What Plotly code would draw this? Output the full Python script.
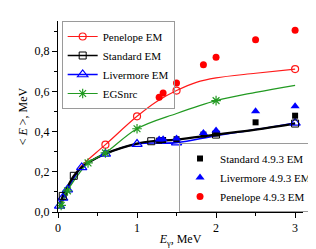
import plotly.graph_objects as go

# ---- data ----
# Penelope EM (curve + marked points)
pen_x = [0.02, 0.05, 0.1, 0.2, 0.3, 0.6, 1.0, 1.25, 1.5, 1.75, 2.0, 2.5, 3.0]
pen_y = [0.02, 0.045, 0.09, 0.175, 0.23, 0.335, 0.476, 0.55, 0.604, 0.645, 0.667, 0.69, 0.711]
pen_mx = [0.6, 1.0, 1.5, 3.0]
pen_my = [0.335, 0.476, 0.604, 0.711]

# Standard EM
std_x = [0.02, 0.06, 0.1, 0.2, 0.3, 0.4, 0.6, 1.0, 1.18, 1.5, 2.0, 2.5, 3.0]
std_y = [0.025, 0.08, 0.11, 0.18, 0.222, 0.25, 0.29, 0.34, 0.352, 0.36, 0.385, 0.41, 0.44]
std_mx = [0.06, 0.2, 1.18, 2.0, 3.0]
std_my = [0.08, 0.18, 0.352, 0.385, 0.44]

# Livermore EM
liv_x = [0.02, 0.06, 0.12, 0.3, 0.6, 1.0, 1.5, 2.0, 2.5, 3.0]
liv_y = [0.03, 0.07, 0.111, 0.222, 0.289, 0.338, 0.345, 0.38, 0.41, 0.443]
liv_mx = [0.02, 0.06, 0.12, 0.3, 0.6, 1.0, 1.5, 3.0]
liv_my = [0.03, 0.07, 0.111, 0.222, 0.289, 0.338, 0.345, 0.443]

# EGSnrc
egs_x = [0.02, 0.04, 0.12, 0.2, 0.38, 0.6, 1.0, 1.5, 2.0, 2.5, 3.0]
egs_y = [0.02, 0.033, 0.105, 0.155, 0.244, 0.294, 0.414, 0.49, 0.554, 0.595, 0.63]
egs_mx = [0.04, 0.12, 0.38, 0.6, 1.0, 2.0]
egs_my = [0.033, 0.105, 0.244, 0.294, 0.414, 0.554]

# Geant4 4.9.3 points
e493 = [1.28, 1.33, 1.5, 1.84, 2.0, 2.5, 3.0]
std493 = [0.355, 0.358, 0.362, 0.385, 0.39, 0.446, 0.479]
liv493 = [0.36, 0.362, 0.366, 0.393, 0.405, 0.501, 0.526]
pen493 = [0.571, 0.592, 0.642, 0.733, 0.77, 0.857, 0.904]

# ticks
x_ticks = [0, 1, 2, 3]
x_labels = ["0", "1", "2", "3"]
y_ticks = [0.0, 0.2, 0.4, 0.6, 0.8]
y_labels = ["0,0", "0,2", "0,4", "0,6", "0,8"]

RED = "#ff1a1a"
BLACK = "#000000"
BLUE = "#0000ff"
GREEN = "#229a22"
FONT = "Liberation Serif"

fig = go.Figure()

series = [
    ("Penelope EM", pen_x, pen_y, pen_mx, pen_my, RED, 1.2, "circle-open", 7, 1.2, 1),
    ("Livermore EM", liv_x, liv_y, liv_mx, liv_my, BLUE, 1.6, "triangle-up-open", 9, 1.2, 3),
    ("Standard EM", std_x, std_y, std_mx, std_my, BLACK, 2.2, "square-open", 7, 1.0, 2),
    ("EGSnrc", egs_x, egs_y, egs_mx, egs_my, GREEN, 1.2, "asterisk-open", 8, 1.2, 4),
]

for name, xs, ys, mx, my, col, lw, sym, ms, mlw, rank in series:
    fig.add_trace(go.Scatter(x=xs, y=ys, mode="lines",
                             line=dict(color=col, width=lw, shape="spline"),
                             showlegend=False, hoverinfo="skip"))
for name, xs, ys, mx, my, col, lw, sym, ms, mlw, rank in series:
    fig.add_trace(go.Scatter(x=mx, y=my, mode="markers",
                             marker=dict(symbol=sym, size=ms, color=col,
                                         line=dict(color=col, width=mlw)),
                             showlegend=False, cliponaxis=False))
    # legend entry
    fig.add_trace(go.Scatter(x=[None], y=[None], mode="lines+markers", name=name,
                             line=dict(color=col, width=min(lw, 1.6)),
                             marker=dict(symbol=sym, size=ms, color=col,
                                         line=dict(color=col, width=mlw)),
                             legend="legend", legendrank=rank))

fig.add_trace(go.Scatter(x=e493, y=std493, mode="markers", name="Standard 4.9.3 EM",
                         marker=dict(symbol="square", size=6, color=BLACK),
                         legend="legend2", legendrank=1, cliponaxis=False))
fig.add_trace(go.Scatter(x=e493, y=liv493, mode="markers", name="Livermore 4.9.3 EM",
                         marker=dict(symbol="triangle-up", size=8, color=BLUE),
                         legend="legend2", legendrank=2, cliponaxis=False))
fig.add_trace(go.Scatter(x=e493, y=pen493, mode="markers", name="Penelope 4.9.3 EM",
                         marker=dict(symbol="circle", size=7, color="#ff0000"),
                         legend="legend2", legendrank=3, cliponaxis=False))

axis_common = dict(showline=True, linecolor="black", linewidth=1, showgrid=False,
                   zeroline=False, ticks="outside", ticklen=5, tickcolor="black",
                   tickfont=dict(family=FONT, size=12, color="black"))

fig.update_layout(
    width=316, height=249,
    margin=dict(l=50, r=7, t=13, b=45),
    plot_bgcolor="white", paper_bgcolor="white",
    font=dict(family=FONT, size=12, color="black"),
    xaxis=dict(range=[0, 3.1], tickmode="array", tickvals=x_ticks, ticktext=x_labels,
               minor=dict(tickmode="linear", tick0=0, dtick=0.5, ticks="outside",
                          ticklen=3, tickcolor="black"),
               title=dict(text="<i>E</i><sub>γ</sub>, MeV", font=dict(family=FONT, size=12),
                          standoff=0),
               **axis_common),
    yaxis=dict(range=[0, 0.95], tickmode="array", tickvals=y_ticks, ticktext=y_labels,
               minor=dict(tickmode="linear", tick0=0, dtick=0.1, ticks="outside",
                          ticklen=3, tickcolor="black"),
               title=dict(text="&lt; <i>E</i> &gt;, MeV", font=dict(family=FONT, size=12),
                          standoff=4),
               **axis_common),
    legend=dict(x=0.015, y=1.0, xanchor="left", yanchor="top",
                bgcolor="rgba(255,255,255,0)", bordercolor="#9a9a9a", borderwidth=1,
                font=dict(family=FONT, size=11, color="black"), tracegroupgap=0),
    legend2=dict(x=0.494, y=0.0, xanchor="left", yanchor="bottom",
                 bgcolor="rgba(255,255,255,0)", bordercolor="#9a9a9a", borderwidth=1,
                 font=dict(family=FONT, size=11, color="black"), tracegroupgap=0),
)

fig.write_html("out.html")
